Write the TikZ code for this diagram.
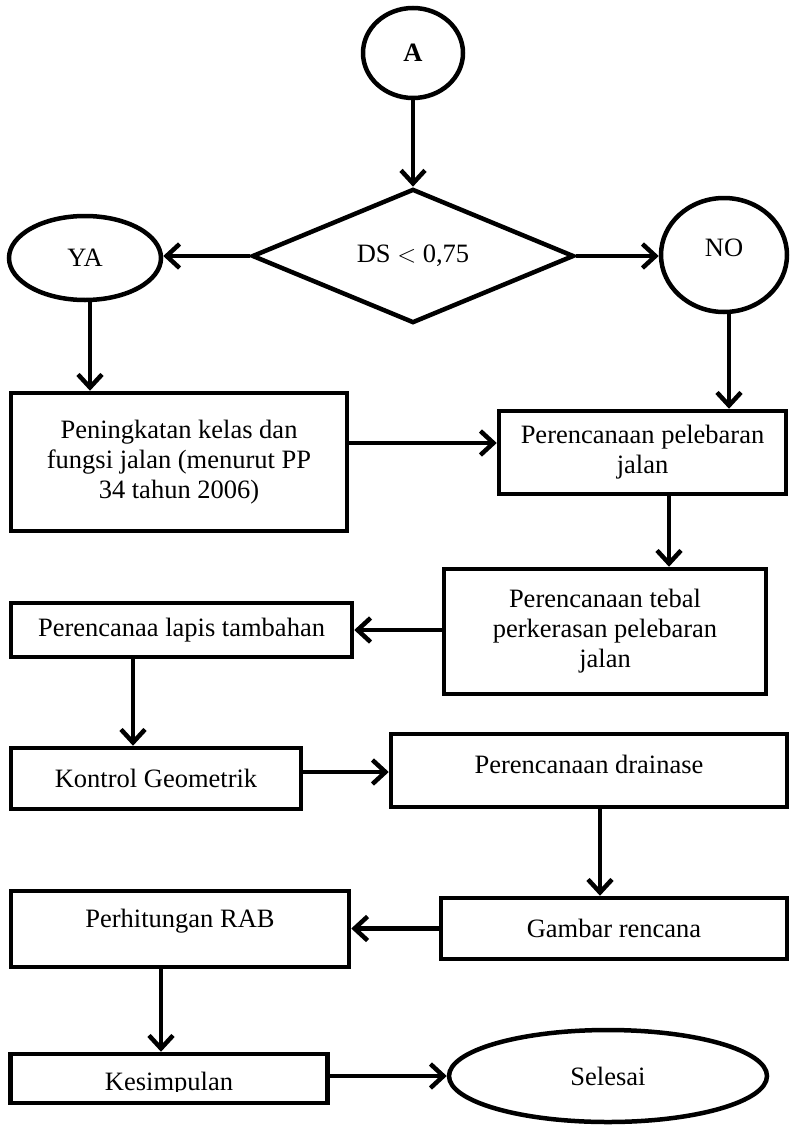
\documentclass[tikz,border=0pt]{standalone}
\usepackage{fontspec}
\setmainfont{Liberation Serif}
\usetikzlibrary{arrows.meta,shapes.geometric}
\begin{document}
\begin{tikzpicture}[x=1pt,y=-1pt,
  every node/.style={font=\fontsize{26.5}{30}\selectfont, align=center, inner sep=0pt},
  boxnode/.style={draw, line width=4.5pt, rectangle},
  ellnode/.style={draw, line width=4.5pt, ellipse},
  dianode/.style={draw, line width=4.5pt, diamond},
  conn/.style={line width=4.5pt, -{Straight Barb[length=13pt,width=24pt]}}
]
\useasboundingbox (0,0) rectangle (790,1127);

% A
\node[ellnode, minimum width=100pt, minimum height=90pt] (A) at (413,53) {\textbf{A}};
% decision
\node[dianode, minimum width=322pt, minimum height=122pt] (D) at (413,256) {DS $<$ 0,75};
% YA / NO
\node[ellnode, minimum width=152pt, minimum height=84pt] (YA) at (85,258) {YA};
\node[ellnode, minimum width=126pt, minimum height=114pt] (NO) at (724,255) {};
\node (NOt) at (724,248) {NO};

% boxes
\node[boxnode, minimum width=336pt, minimum height=138pt] (B1) at (179,462)
  {Peningkatan kelas dan\\fungsi jalan (menurut PP\\34 tahun 2006)};
\node[boxnode, minimum width=287pt, minimum height=83pt] (B2) at (642.5,452.5)
  {Perencanaan pelebaran\\jalan};
\node[boxnode, minimum width=322pt, minimum height=125pt] (B3) at (605,631.5)
  {Perencanaan tebal\\perkerasan pelebaran\\jalan};
\node[boxnode, minimum width=341pt, minimum height=54pt] (B4) at (181.5,630)
  {Perencanaa lapis tambahan};
\node[boxnode, minimum width=290pt, minimum height=61pt] (B5) at (156,778.5)
  {Kontrol Geometrik};
\node[boxnode, minimum width=396pt, minimum height=73pt] (B6) at (589,770.5) {};
\node (B6t) at (589,764) {Perencanaan drainase};
\node[boxnode, minimum width=346pt, minimum height=61pt] (B7) at (614,928.5)
  {Gambar rencana};
\node[boxnode, minimum width=338pt, minimum height=76pt] (B8) at (180,929) {};
\node (B8t) at (180,921) {Perhitungan RAB};
\node[boxnode, minimum width=317pt, minimum height=49pt] (B9) at (169,1078.5) {};
\begin{scope}
  \clip (13,1056) rectangle (325,1091);
  \node[anchor=base] (B9t) at (169,1090) {Kesimpulan};
\end{scope}
\node[ellnode, minimum width=318pt, minimum height=92pt] (S) at (608,1076) {Selesai};

% connectors
\draw[conn] (A.south) -- (D.north);
\draw[conn] (D.west) -- (D.west -| YA.east);
\draw[conn] (D.east) -- (D.east -| NO.west);
\coordinate (yaS) at (90,300);
\draw[conn] (yaS) -- (yaS |- B1.north);
\coordinate (noS) at (729,311);
\draw[conn] (noS) -- (noS |- B2.north);
\draw[conn] (B1.east |- 0,443) -- (B2.west |- 0,443);
\draw[conn] (B2.south -| 669,0) -- (B3.north -| 669,0);
\draw[conn] (B3.west |- B4.east) -- (B4.east);
\draw[conn] (B4.south -| 133,0) -- (B5.north -| 133,0);
\draw[conn] (B5.east |- 0,772) -- (B6.west |- 0,772);
\draw[conn] (B6.south -| 600,0) -- (B7.north -| 600,0);
\draw[conn] (B7.west) -- (B7.west -| B8.east);
\draw[conn] (B8.south -| 161,0) -- (B9.north -| 161,0);
\draw[conn] (B9.east |- S.west) -- (S.west);
\end{tikzpicture}
\end{document}
